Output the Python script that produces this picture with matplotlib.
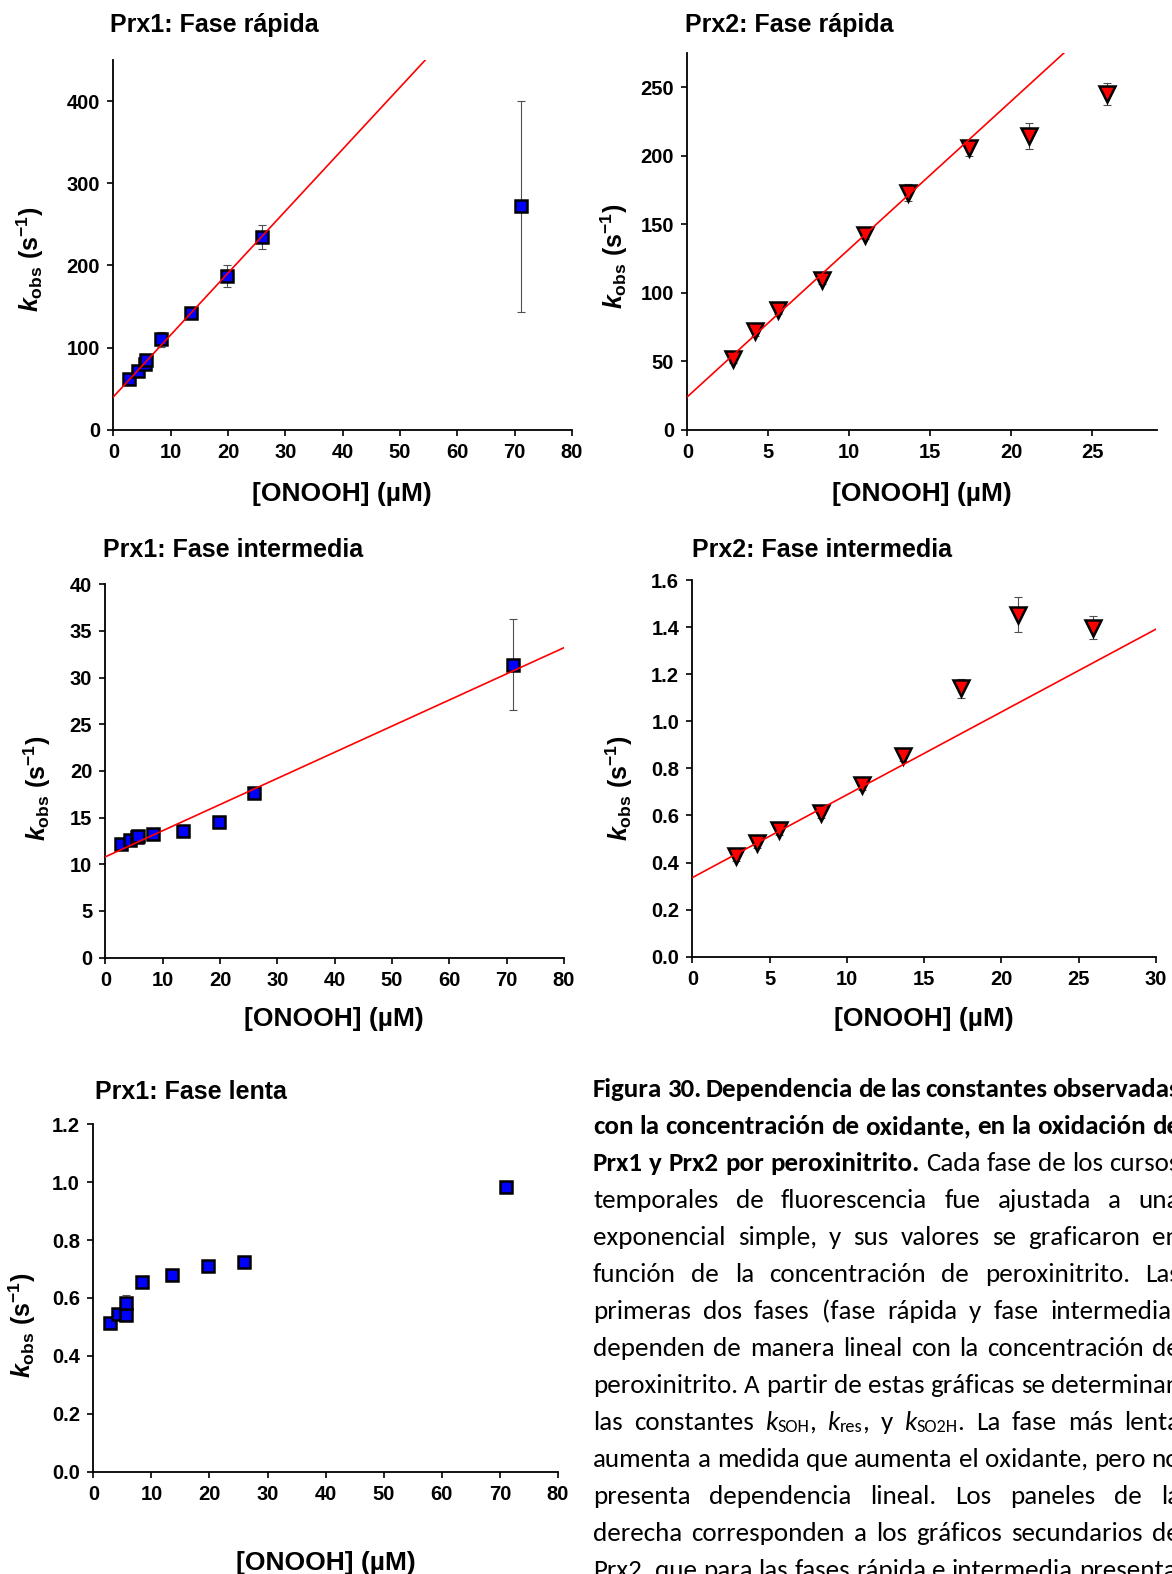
import matplotlib
matplotlib.use('Agg')
import matplotlib.pyplot as plt
import numpy as np
from matplotlib import font_manager
from matplotlib.ticker import FormatStrFormatter

plt.rcParams['font.family'] = ['Liberation Sans', 'DejaVu Sans']
plt.rcParams['font.weight'] = 'bold'
plt.rcParams['mathtext.fontset'] = 'custom'
plt.rcParams['mathtext.rm'] = 'Liberation Sans:bold'
plt.rcParams['mathtext.bf'] = 'Liberation Sans:bold'
plt.rcParams['mathtext.it'] = 'Liberation Sans:italic:bold'

# ---- data ----
prx1_conc = [2.8, 4.3, 5.6, 5.7, 8.3, 13.6, 19.8, 25.9, 71.1]
prx1_rapida = [61.7, 71.8, 80.0, 84.5, 110.0, 142.3, 187.0, 235.0, 272.0]
prx1_rapida_err = [3, 3, 3, 3, 9.5, 3, 13.5, 14.5, 128.5]
prx1_inter = [12.2, 12.65, 12.9, 13.05, 13.2, 13.6, 14.5, 17.65, 31.4]
prx1_inter_err = [0.3, 0.3, 0.3, 0.3, 0.3, 0.3, 0.6, 0.3, 4.9]
prx1_lenta = [0.514, 0.546, 0.541, 0.584, 0.654, 0.678, 0.710, 0.725, 0.984]
prx1_lenta_err = [0.005, 0.005, 0.01, 0.025, 0.005, 0.005, 0.01, 0.01, 0.01]

prx2_conc = [2.8, 4.2, 5.6, 8.3, 11.0, 13.6, 17.4, 21.1, 25.9]
prx2_rapida = [51.4, 71.7, 87.2, 109.4, 142.0, 173.0, 205.6, 214.5, 245.5]
prx2_rapida_err = [3, 3, 3, 3, 3, 6.3, 5.8, 9.5, 8.0]
prx2_inter = [0.427, 0.481, 0.538, 0.611, 0.730, 0.851, 1.140, 1.454, 1.399]
prx2_inter_err = [0.02, 0.02, 0.02, 0.02, 0.02, 0.02, 0.04, 0.074, 0.049]

# linear fits (slope, intercept)
fit_prx1_rapida = (7.54, 40.0)
fit_prx2_rapida = (10.8, 24.0)
fit_prx1_inter = (0.28, 10.8)
fit_prx2_inter = (0.0352, 0.336)

titles = ['Prx1: Fase rápida', 'Prx2: Fase rápida', 'Prx1: Fase intermedia',
          'Prx2: Fase intermedia', 'Prx1: Fase lenta']

W, H = 1172, 1574
SX, SY = 1172 / 1168, 1574 / 1568

fig = plt.figure(figsize=(W / 100, H / 100), dpi=100)


def fx(x):
    return x * SX / W


def fy(y):
    return 1 - y * SY / H


panels = [
    dict(box=(113, 60, 570, 428), x=prx1_conc, y=prx1_rapida, e=prx1_rapida_err, fit=fit_prx1_rapida,
         xlim=(0, 80), ylim=(0, 450), xt=range(0, 81, 10), yt=range(0, 401, 100), fmt='%d',
         mk='s', col='#0000FF', title=(110, 25), xl=(341, 492), yl=(30, 258)),
    dict(box=(685, 53, 1153, 428), x=prx2_conc, y=prx2_rapida, e=prx2_rapida_err, fit=fit_prx2_rapida,
         xlim=(0, 29), ylim=(0, 275), xt=range(0, 26, 5), yt=range(0, 251, 50), fmt='%d',
         mk='v', col='#FF0000', title=(683, 25), xl=(919, 492), yl=(612, 255)),
    dict(box=(105, 582, 562, 954), x=prx1_conc, y=prx1_inter, e=prx1_inter_err, fit=fit_prx1_inter,
         xlim=(0, 80), ylim=(0, 40), xt=range(0, 81, 10), yt=range(0, 41, 5), fmt='%d',
         mk='s', col='#0000FF', title=(103, 548), xl=(333, 1015), yl=(37, 785)),
    dict(box=(690, 578, 1152, 953), x=prx2_conc, y=prx2_inter, e=prx2_inter_err, fit=fit_prx2_inter,
         xlim=(0, 30), ylim=(0, 1.6), xt=range(0, 31, 5), yt=np.arange(0, 1.61, 0.2), fmt='%.1f',
         mk='v', col='#FF0000', title=(690, 548), xl=(921, 1015), yl=(617, 785)),
    dict(box=(93, 1120, 556, 1466), x=prx1_conc, y=prx1_lenta, e=prx1_lenta_err, fit=None,
         xlim=(0, 80), ylim=(0, 1.2), xt=range(0, 81, 10), yt=np.arange(0, 1.21, 0.2), fmt='%.1f',
         mk='s', col='#0000FF', title=(95, 1088), xl=(325, 1557), yl=(22, 1320)),
]

for p, title in zip(panels, titles):
    l, t, r, b = p['box']
    ax = fig.add_axes([fx(l), fy(b), fx(r) - fx(l), fy(t) - fy(b)])
    ax.errorbar(p['x'], p['y'], yerr=p['e'], fmt='none', ecolor='#505050',
                elinewidth=0.8, capsize=3, capthick=0.8, zorder=2)
    ms = 8.5 if p['mk'] == 's' else 11
    ax.plot(p['x'], p['y'], p['mk'], ms=ms, mfc=p['col'], mec='black', mew=1.8, zorder=3)
    if p['fit'] is not None:
        xs = np.array(p['xlim'], dtype=float)
        ax.plot(xs, p['fit'][0] * xs + p['fit'][1], color='#FF0000', lw=1.2, zorder=4)
    ax.set_xlim(p['xlim'])
    ax.set_ylim(p['ylim'])
    ax.set_xticks(list(p['xt']))
    ax.set_yticks(list(p['yt']))
    ax.yaxis.set_major_formatter(FormatStrFormatter(p['fmt']))
    for s in ['top', 'right']:
        ax.spines[s].set_visible(False)
    for s in ['left', 'bottom']:
        ax.spines[s].set_linewidth(1.3)
    ax.tick_params(direction='out', length=4.5, width=1.2, labelsize=14.5, pad=5)
    ax.set_xlabel('[ONOOH] (µM)', fontsize=19, fontweight='bold', va='center')
    ax.xaxis.set_label_coords(fx(p['xl'][0]), fy(p['xl'][1]), transform=fig.transFigure)
    ax.set_ylabel(r'$k_{\mathrm{obs}}\ \mathrm{(s^{-1})}$', fontsize=18, va='center')
    ax.yaxis.set_label_coords(fx(p['yl'][0]), fy(p['yl'][1]), transform=fig.transFigure)
    fig.text(fx(p['title'][0]), fy(p['title'][1]), title, fontsize=18, fontweight='bold',
             ha='left', va='center')

# ---- caption (justified, cut by the right edge like the original) ----
caption = [
    [("Figura 30. Dependencia de las constantes observadas", "b")],
    [("con la concentración de oxidante, en la oxidación de", "b")],
    [("Prx1 y Prx2 por peroxinitrito. ", "b"), ("Cada fase de los cursos", "n")],
    [("temporales de fluorescencia fue ajustada a una", "n")],
    [("exponencial simple, y sus valores se graficaron en", "n")],
    [("función de la concentración de peroxinitrito. Las", "n")],
    [("primeras dos fases (fase rápida y fase intermedia)", "n")],
    [("dependen de manera lineal con la concentración de", "n")],
    [("peroxinitrito. A partir de estas gráficas se determinan", "n")],
    [("las constantes ", "n"), ("k", "i"), ("SOH", "s"), (", ", "n"), ("k", "i"), ("res", "s"),
     (", y ", "n"), ("k", "i"), ("SO2H", "s"), (". La fase más lenta", "n")],
    [("aumenta a medida que aumenta el oxidante, pero no", "n")],
    [("presenta dependencia lineal. Los paneles de la", "n")],
    [("derecha corresponden a los gráficos secundarios de", "n")],
    [("Prx2, que para las fases rápida e intermedia presentan", "n")],
]

CAP_FONT = ['Lato', 'DejaVu Sans']
for name in ['Carlito', 'Calibri']:
    try:
        font_manager.findfont(name, fallback_to_default=False)
        CAP_FONT = [name, 'DejaVu Sans']
        break
    except Exception:
        pass

X0, XR = 593, 1180
Y0, DY = 1087, 37
renderer = fig.canvas.get_renderer()


def run_kw(sty, fs):
    kw = dict(family=CAP_FONT, fontsize=fs, fontweight='normal', fontstyle='normal')
    if sty == 'b':
        kw['fontweight'] = 'bold'
    elif sty == 'i':
        kw['fontstyle'] = 'italic'
    elif sty == 's':
        kw['fontsize'] = fs * 0.68
    return kw


def width(s, kw):
    t = fig.text(0, 0, s, **kw)
    w = t.get_window_extent(renderer=renderer).width
    t.remove()
    return w


ref = "aumenta a medida que aumenta el oxidante, pero no"
cap_fs = 10 * (XR - X0) / width(ref, run_kw('n', 10))
space = width('a a', run_kw('n', cap_fs)) - 2 * width('a', run_kw('n', cap_fs))

for i, line in enumerate(caption):
    words = [[]]
    for txt, sty in line:
        parts = txt.split(' ')
        for j, part in enumerate(parts):
            if j > 0:
                words.append([])
            if part:
                words[-1].append((part, sty))
    words = [w for w in words if w]
    widths = [[width(s, run_kw(st, cap_fs)) for s, st in w] for w in words]
    total = sum(sum(w) for w in widths)
    if i < len(caption) - 1:
        gap = max((XR - X0 - total) / (len(words) - 1), 0.6 * space)
    else:
        gap = space
    x = X0
    base = Y0 + i * DY + 10
    for w, ws in zip(words, widths):
        for (s, st), wd in zip(w, ws):
            dy = 2 if st == 's' else 0
            fig.text(x / W, 1 - (base + dy) / H, s, ha='left', va='baseline', **run_kw(st, cap_fs))
            x += wd
        x += gap

fig.savefig('out.png', dpi=100)
